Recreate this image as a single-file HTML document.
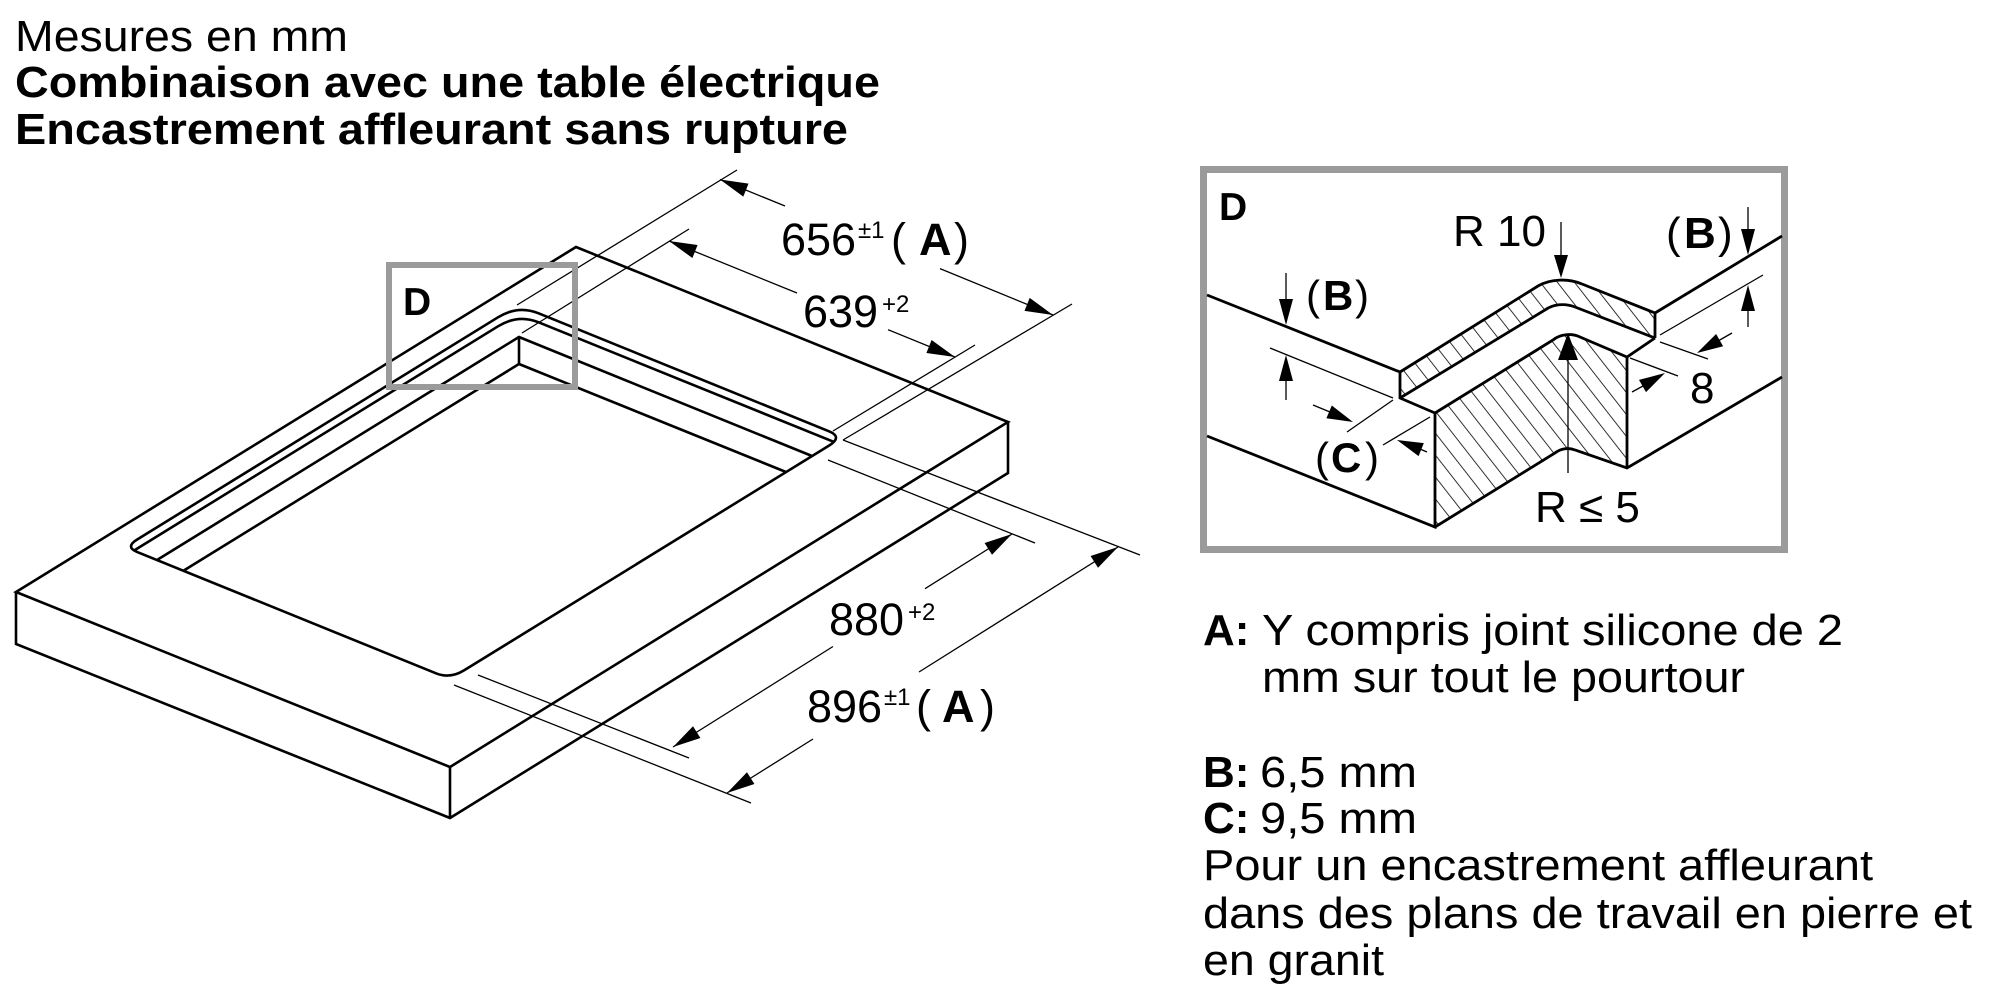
<!DOCTYPE html>
<html>
<head>
<meta charset="utf-8">
<style>
html,body{margin:0;padding:0;background:#fff;}
svg{display:block;}
text{font-family:"Liberation Sans",Arial,sans-serif;fill:#000;}
</style>
</head>
<body>
<svg width="2000" height="1000" viewBox="0 0 2000 1000" xmlns="http://www.w3.org/2000/svg">
<defs>
<pattern id="hat" patternUnits="userSpaceOnUse" width="13.5" height="30" patternTransform="rotate(-38)">
<line x1="0" y1="-5" x2="0" y2="35" stroke="#000" stroke-width="1.6"/>
</pattern>
</defs>
<rect x="0" y="0" width="2000" height="1000" fill="#fff"/>

<!-- Title -->
<text x="15" y="51" font-size="44" textLength="333" lengthAdjust="spacingAndGlyphs">Mesures en mm</text>
<text x="15" y="97" font-size="44" font-weight="bold" textLength="865" lengthAdjust="spacingAndGlyphs">Combinaison avec une table électrique</text>
<text x="15" y="144" font-size="44" font-weight="bold" textLength="833" lengthAdjust="spacingAndGlyphs">Encastrement affleurant sans rupture</text>

<!-- Main slab -->
<g stroke="#000" stroke-width="2.6" fill="none" stroke-linejoin="miter">
<path d="M16,592 L576,247 L1008,422 L450,767 Z"/>
<path d="M16,592 L16,644 L450,818 L1008,473 L1008,422 M450,767 L450,818"/>
<!-- cutout outer rim -->
<path d="M498,317.3 Q518,305 538,313.1 L829,431.3 Q843,437 829,445.6 L464,670.4 Q450,679 436,673.3 L137,551.9 Q125,547 137,539.6 Z"/>
<!-- second rim -->
<path d="M133.9,550.6 L498,326.3 Q518,314 538,322.1 L834.6,442.2"/>
<!-- inner top / bottom -->
<path d="M157,560 L519,337 L812,456"/>
<path d="M183,571 L519,364 L786,472"/>
<path d="M519,337 L519,364"/>
</g>

<!-- Extension and dimension lines -->
<g stroke="#000" stroke-width="1.3" fill="none">
<path d="M517,305 L737,170"/>
<path d="M522,333 L689,229"/>
<path d="M843,440 L1072,304"/>
<path d="M833,431 L975,345"/>
<path d="M478,675 L689,758"/>
<path d="M454,685 L751,803"/>
<path d="M828,460 L1035,543"/>
<path d="M843,440 L1140,555"/>
<path d="M720,179.5 L785,206 M940,268.6 L1053,315"/>
<path d="M669,241 L797,293 M888,329.7 L955,357"/>
<path d="M673,747 L833,646.5 M925,588.7 L1012,534"/>
<path d="M727,793 L813,739 M919,672 L1118,547"/>
</g>
<g fill="#000" stroke="none">
<polygon points="720,179.5 748.5,183.6 743.3,196.6"/>
<polygon points="1053,315 1024.5,310.9 1029.7,297.9"/>
<polygon points="669,241 697.6,245 692.4,258"/>
<polygon points="955,357 926.4,353 931.6,340"/>
<polygon points="673,747 693,726.2 700.4,738"/>
<polygon points="1012,534 992,554.8 984.6,543"/>
<polygon points="727,793 747,772.2 754.4,784"/>
<polygon points="1118,547 1098,567.8 1090.6,556"/>
</g>

<!-- Dimension texts -->
<text x="781" y="255" font-size="45">656</text>
<text x="858" y="238" font-size="24">±1</text>
<text x="891" y="255" font-size="45">(</text>
<text x="919" y="255" font-size="45" font-weight="bold">A</text>
<text x="954" y="255" font-size="45">)</text>

<text x="803" y="327" font-size="45">639</text>
<text x="882" y="312" font-size="24">+2</text>

<text x="829" y="635" font-size="45">880</text>
<text x="908" y="620" font-size="24">+2</text>

<text x="807" y="722" font-size="45">896</text>
<text x="884" y="705" font-size="24">±1</text>
<text x="916" y="722" font-size="45">(</text>
<text x="942" y="722" font-size="45" font-weight="bold">A</text>
<text x="980" y="722" font-size="45">)</text>

<!-- Box D on main drawing -->
<rect x="389" y="265" width="186" height="122" fill="none" stroke="#9b9b9b" stroke-width="6"/>
<text x="403" y="315" font-size="39" font-weight="bold">D</text>

<!-- Detail box -->
<rect x="1203.5" y="169.5" width="581" height="380" fill="none" stroke="#9b9b9b" stroke-width="7"/>
<text x="1219" y="220" font-size="39" font-weight="bold">D</text>

<!-- hatched regions -->
<path d="M1400,372 L1538,286 C1550,279 1568,278 1582,284 L1655,313 L1655,338 L1575,307 C1565,303 1553,304 1545,310 L1400,398 Z" fill="url(#hat)" stroke="none"/>
<path d="M1435,413 L1553,340 C1560,334 1572,333 1580,337 L1627,357 L1627,468 L1575,450 C1568,447 1560,449 1555,453 L1435,527 Z" fill="url(#hat)" stroke="none"/>

<g stroke="#000" stroke-width="2.8" fill="none" stroke-linejoin="miter">
<path d="M1207,295 L1400,372 L1400,398 L1435,413 L1435,527 L1207,436"/>
<path d="M1400,372 L1538,286 C1550,279 1568,278 1582,284 L1655,313 L1655,338"/>
<path d="M1400,398 L1545,310 C1553,304 1565,303 1575,307 L1655,338"/>
<path d="M1655,313 L1782,236"/>
<path d="M1435,413 L1553,340 C1560,334 1572,333 1580,337 L1627,357 L1655,338"/>
<path d="M1627,357 L1627,468"/>
<path d="M1435,527 L1555,453 C1560,449 1568,447 1575,450 L1627,468 L1782,377"/>
</g>

<!-- detail thin lines -->
<g stroke="#000" stroke-width="1.3" fill="none">
<path d="M1286,273 L1286,301"/>
<path d="M1270,348 L1393,398"/>
<path d="M1286,379 L1286,400"/>
<path d="M1347,432 L1393,400"/>
<path d="M1313,405 L1330,412"/>
<path d="M1383,445 L1430,417"/>
<path d="M1420,449 L1427,452"/>
<path d="M1561,222 L1561,258"/>
<path d="M1748,207 L1748,231"/>
<path d="M1660,335 L1763,275"/>
<path d="M1748,309 L1748,327"/>
<path d="M1660,342 L1708,359"/>
<path d="M1718,341 L1732,333"/>
<path d="M1630,358 L1678,376"/>
<path d="M1632,392 L1643,386"/>
<path d="M1568,473 L1568,355"/>
</g>
<g fill="#000" stroke="none">
<polygon points="1286,325 1279,299 1293,299"/>
<polygon points="1286,355 1279,381 1293,381"/>
<polygon points="1353,422 1326.4,418.3 1331.8,405.5"/>
<polygon points="1397,440 1423.8,443.1 1418.6,456.1"/>
<polygon points="1561,278 1554,255 1568,255"/>
<polygon points="1748,255 1741,229 1755,229"/>
<polygon points="1748,285 1741,311 1755,311"/>
<polygon points="1697,353 1716.1,334 1723.1,346.2"/>
<polygon points="1665,373 1646,392.1 1639,379.9"/>
<polygon points="1568,333 1558,360 1578,360"/>
</g>

<!-- detail texts -->
<text x="1306" y="310" font-size="42">(</text>
<text x="1323" y="310" font-size="42" font-weight="bold">B</text>
<text x="1355" y="310" font-size="42">)</text>

<text x="1315" y="472" font-size="42">(</text>
<text x="1331" y="472" font-size="42" font-weight="bold">C</text>
<text x="1365" y="472" font-size="42">)</text>

<text x="1666" y="248" font-size="44">(</text>
<text x="1684" y="248" font-size="44" font-weight="bold">B</text>
<text x="1718" y="248" font-size="44">)</text>

<text x="1453" y="246" font-size="44">R 10</text>
<text x="1690" y="403" font-size="44">8</text>
<text x="1535" y="522" font-size="44">R ≤ 5</text>

<!-- Legend -->
<text x="1203" y="645" font-size="44" font-weight="bold">A:</text>
<text x="1262" y="645" font-size="44" textLength="581" lengthAdjust="spacingAndGlyphs">Y compris joint silicone de 2</text>
<text x="1262" y="692" font-size="44" textLength="483" lengthAdjust="spacingAndGlyphs">mm sur tout le pourtour</text>

<text x="1203" y="787" font-size="44" font-weight="bold">B:</text>
<text x="1260" y="787" font-size="44" textLength="157" lengthAdjust="spacingAndGlyphs">6,5 mm</text>
<text x="1203" y="833" font-size="44" font-weight="bold">C:</text>
<text x="1260" y="833" font-size="44" textLength="157" lengthAdjust="spacingAndGlyphs">9,5 mm</text>
<text x="1203" y="880" font-size="44" textLength="670" lengthAdjust="spacingAndGlyphs">Pour un encastrement affleurant</text>
<text x="1203" y="928" font-size="44" textLength="769" lengthAdjust="spacingAndGlyphs">dans des plans de travail en pierre et</text>
<text x="1203" y="975" font-size="44" textLength="181" lengthAdjust="spacingAndGlyphs">en granit</text>
</svg>
</body>
</html>
